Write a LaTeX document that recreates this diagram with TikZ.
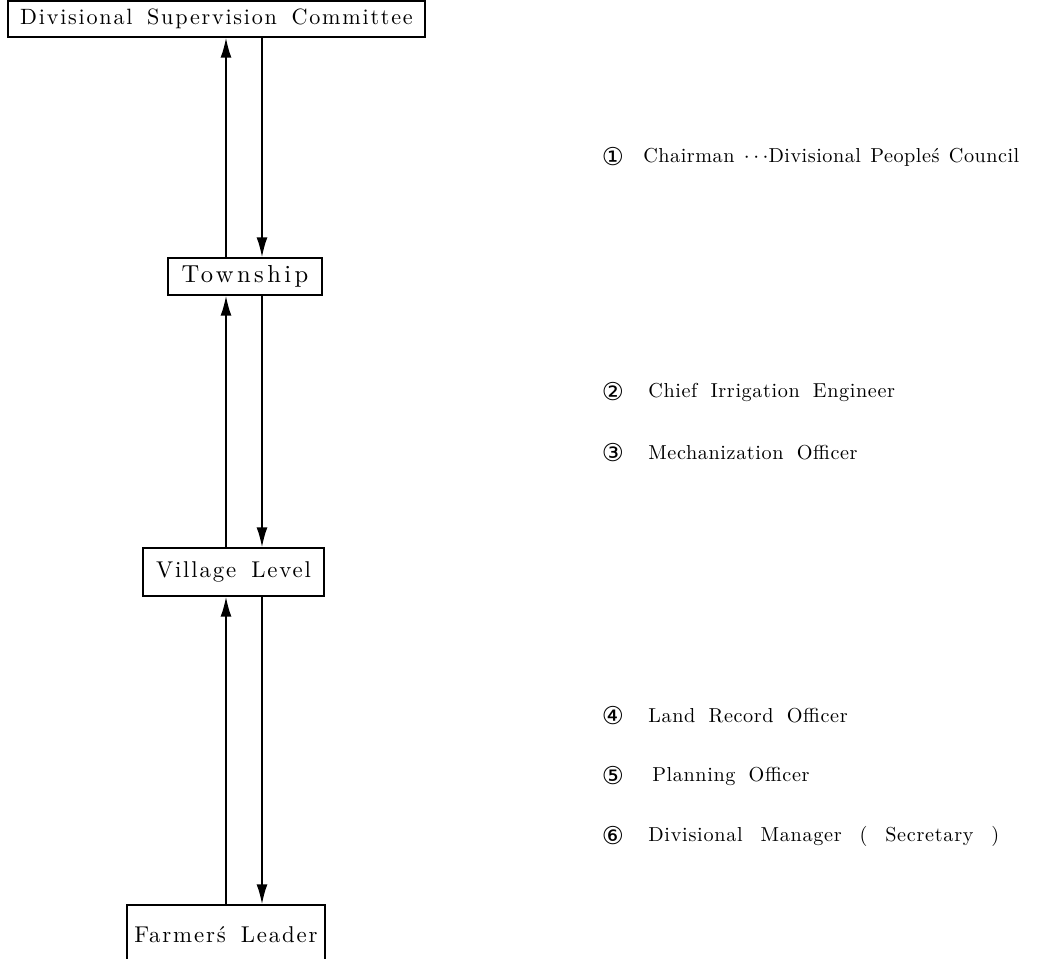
\documentclass[tikz,border=0pt]{standalone}
\usepackage{fontspec}
\newfontfamily\chartfont{lmroman10-regular.otf}[LetterSpace=8,WordSpace=1.6]
\newfontfamily\listfont{lmroman10-regular.otf}[LetterSpace=3,WordSpace=1.8]
\newfontfamily\tightfont{lmroman10-regular.otf}[LetterSpace=2.5,WordSpace=1.3]
\newfontfamily\widefont{lmroman10-regular.otf}[LetterSpace=3.5,WordSpace=2.4]
\newfontfamily\circfont{DejaVu Sans}
\usetikzlibrary{arrows.meta}

\tikzset{
 level/.style={draw,line width=0.8pt,inner sep=0pt,
   font=\chartfont\fontsize{13}{15}\selectfont},
 member/.style={anchor=west,inner sep=0pt,
   font=\listfont\fontsize{11.5}{14}\selectfont},
 number/.style={inner sep=0pt,font=\circfont\fontsize{14}{16}\selectfont},
 flow/.style={line width=1pt,-{Latex[length=4mm,width=2.2mm]}}
}

\begin{document}
\begin{tikzpicture}[x=0.02cm,y=-0.02cm]
 \useasboundingbox (0,0) rectangle (1042,959);

 \node[level,minimum width=8.34cm,minimum height=0.72cm,
  font=\chartfont\fontsize{12.6}{15}\selectfont] (DSC) at (216.5,19)
  {Divisional Supervision Committee};
 \node[level,minimum width=3.08cm,minimum height=0.74cm,
  font=\chartfont\fontsize{14}{16}\selectfont\addfontfeatures{LetterSpace=14}] (TS) at (245,276.5)
  {Township};
 \node[level,minimum width=3.62cm,minimum height=0.96cm] (VL) at (233.5,572)
  {Village Level};
 \node[level,minimum width=3.96cm,minimum height=1.2cm] (FL) at (226,935)
  {Farmer\'s Leader};

 \coordinate (up) at (226,0);
 \coordinate (down) at (262,0);

 \draw[flow] (TS.north -| up) -- (DSC.south -| up);
 \draw[flow] (DSC.south -| down) -- (TS.north -| down);
 \draw[flow] (VL.north -| up) -- (TS.south -| up);
 \draw[flow] (TS.south -| down) -- (VL.north -| down);
 \draw[flow] (FL.north -| up) -- (VL.south -| up);
 \draw[flow] (VL.south -| down) -- (FL.north -| down);

 \node[number] (N1) at (613,157) {①};
 \node[number] (N2) at (613,392) {②};
 \node[number] (N3) at (613,453) {③};
 \node[number] (N4) at (613,716) {④};
 \node[number] (N5) at (613,776) {⑤};
 \node[number] (N6) at (613,836) {⑥};

 \node[member,font=\tightfont\fontsize{11.5}{14}\selectfont]
  (M1) at (643,157) {Chairman $\cdots$Divisional People\'s Council};
 \node[member] (M2) at (648,392) {Chief Irrigation Engineer};
 \node[member] (M3) at (648,453) {Mechanization Officer};
 \node[member] (M4) at (648,716) {Land Record Officer};
 \node[member] (M5) at (652,776) {Planning Officer};
 \node[member,font=\widefont\fontsize{11.5}{14}\selectfont]
  (M6) at (648,836) {Divisional Manager ( Secretary )};
\end{tikzpicture}
\end{document}
